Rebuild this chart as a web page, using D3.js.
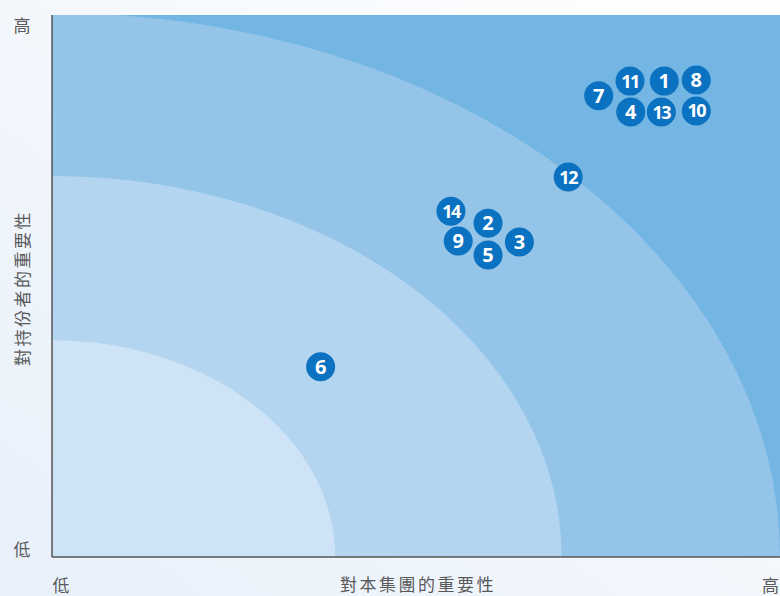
<!DOCTYPE html>
<html>
    <head>
        <meta charset="utf-8">
        <script src="https://d3js.org/d3.v7.min.js"></script>
        <style>
            body { margin: 0; }
            .lbl { font-family: "Noto Sans CJK TC", sans-serif; font-size: 17px; fill: #595959; }
            .num { font-family: "Open Sans", sans-serif; font-weight: 700; fill: #fff; }
        </style>
    </head>
    <body>
        <div id="chart"></div>
        <script>
            // materiality items: id, importance to group (x), importance to stakeholders (y)
            const ids = [1, 2, 3, 4, 5, 6, 7, 8, 9, 10, 11, 12, 13, 14];
            const xVals = [8.41, 5.99, 6.42, 7.95, 5.99, 3.69, 7.51, 8.85, 5.58, 8.85, 7.94, 7.09, 8.37, 5.48];
            const yVals = [8.78, 6.16, 5.81, 8.21, 5.57, 3.51, 8.51, 8.80, 5.83, 8.23, 8.78, 7.01, 8.21, 6.38];
            // background bands (radii in data units) and colours
            const bandRx = [10, 7, 3.89];
            const bandRy = [10.04, 7.03, 4];
            const bandColors = ['#94c5e9', '#b3d5ef', '#cee3f5'];
            const outerColor = '#74b6e3';
            const yTickLabels = ['低', '高'];
            const xTickLabels = ['低', '高'];
            const xTitle = '對本集團的重要性';
            const yTitle = '對持份者的重要性';

            const W = 780, H = 596;
            const margin = { top: 15, right: 0, bottom: 39, left: 52 };

            const svg = d3.select('#chart').append('svg').attr('width', W).attr('height', H);
            const defs = svg.append('defs');
            const grad = defs.append('linearGradient').attr('id', 'bg')
                .attr('x1', 0).attr('y1', 1).attr('x2', 1).attr('y2', 0);
            grad.append('stop').attr('offset', 0).attr('stop-color', '#e8f0fa');
            grad.append('stop').attr('offset', 1).attr('stop-color', '#ffffff');
            svg.append('rect').attr('width', W).attr('height', H).attr('fill', 'url(#bg)');

            const x = d3.scaleLinear().domain([0, 10]).range([margin.left, W - margin.right]);
            const y = d3.scaleLinear().domain([0, 10]).range([H - margin.bottom, margin.top]);

            defs.append('clipPath').attr('id', 'plot').append('rect')
                .attr('x', x(0)).attr('y', y(10))
                .attr('width', x(10) - x(0)).attr('height', y(0) - y(10));

            const plot = svg.append('g').attr('clip-path', 'url(#plot)');
            plot.append('rect')
                .attr('x', x(0)).attr('y', y(10))
                .attr('width', x(10) - x(0)).attr('height', y(0) - y(10))
                .attr('fill', outerColor);
            plot.selectAll('ellipse').data(bandColors).join('ellipse')
                .attr('cx', x(0)).attr('cy', y(0))
                .attr('rx', (d, i) => x(bandRx[i]) - x(0))
                .attr('ry', (d, i) => y(0) - y(bandRy[i]))
                .attr('fill', (d) => d);

            // axes
            svg.append('line').attr('x1', x(0)).attr('x2', x(0)).attr('y1', y(10)).attr('y2', y(0))
                .attr('stroke', '#555').attr('stroke-width', 1.5);
            svg.append('line').attr('x1', x(0)).attr('x2', W).attr('y1', y(0)).attr('y2', y(0))
                .attr('stroke', '#555').attr('stroke-width', 1.5);

            // axis labels
            svg.append('text').attr('class', 'lbl').attr('x', 22).attr('y', y(0) - 1).attr('text-anchor', 'middle').text(yTickLabels[0]);
            svg.append('text').attr('class', 'lbl').attr('x', 22).attr('y', y(10) + 17).attr('text-anchor', 'middle').text(yTickLabels[1]);
            svg.append('text').attr('class', 'lbl').attr('x', x(0) + 9).attr('y', H - 4).attr('text-anchor', 'middle').text(xTickLabels[0]);
            svg.append('text').attr('class', 'lbl').attr('x', W - 1).attr('y', H - 4).attr('text-anchor', 'end').text(xTickLabels[1]);
            svg.append('text').attr('class', 'lbl').attr('x', x(5) + 2).attr('y', H - 5)
                .attr('text-anchor', 'middle').attr('letter-spacing', 2.5).text(xTitle);
            svg.append('text').attr('class', 'lbl')
                .attr('transform', `translate(29,${(y(0) + y(10)) / 2 + 2}) rotate(-90)`)
                .attr('text-anchor', 'middle').attr('letter-spacing', 2.5).text(yTitle);

            // bubbles
            const pts = ids.map((id, i) => ({ id, x: xVals[i], y: yVals[i] }));
            const g = svg.selectAll('.pt').data(pts).join('g').attr('class', 'pt')
                .attr('transform', (d) => `translate(${x(d.x)},${y(d.y)})`);
            g.append('circle').attr('r', 14.5).attr('fill', '#0b71c1');
            g.append('text').attr('class', 'num')
                .attr('text-anchor', 'middle').attr('dy', '0.36em')
                .attr('font-size', (d) => (d.id > 9 ? 18 : 20))
                .attr('letter-spacing', (d) => (d.id > 9 ? -1.5 : 0))
                .text((d) => d.id);
        </script>
    </body>
</html>
